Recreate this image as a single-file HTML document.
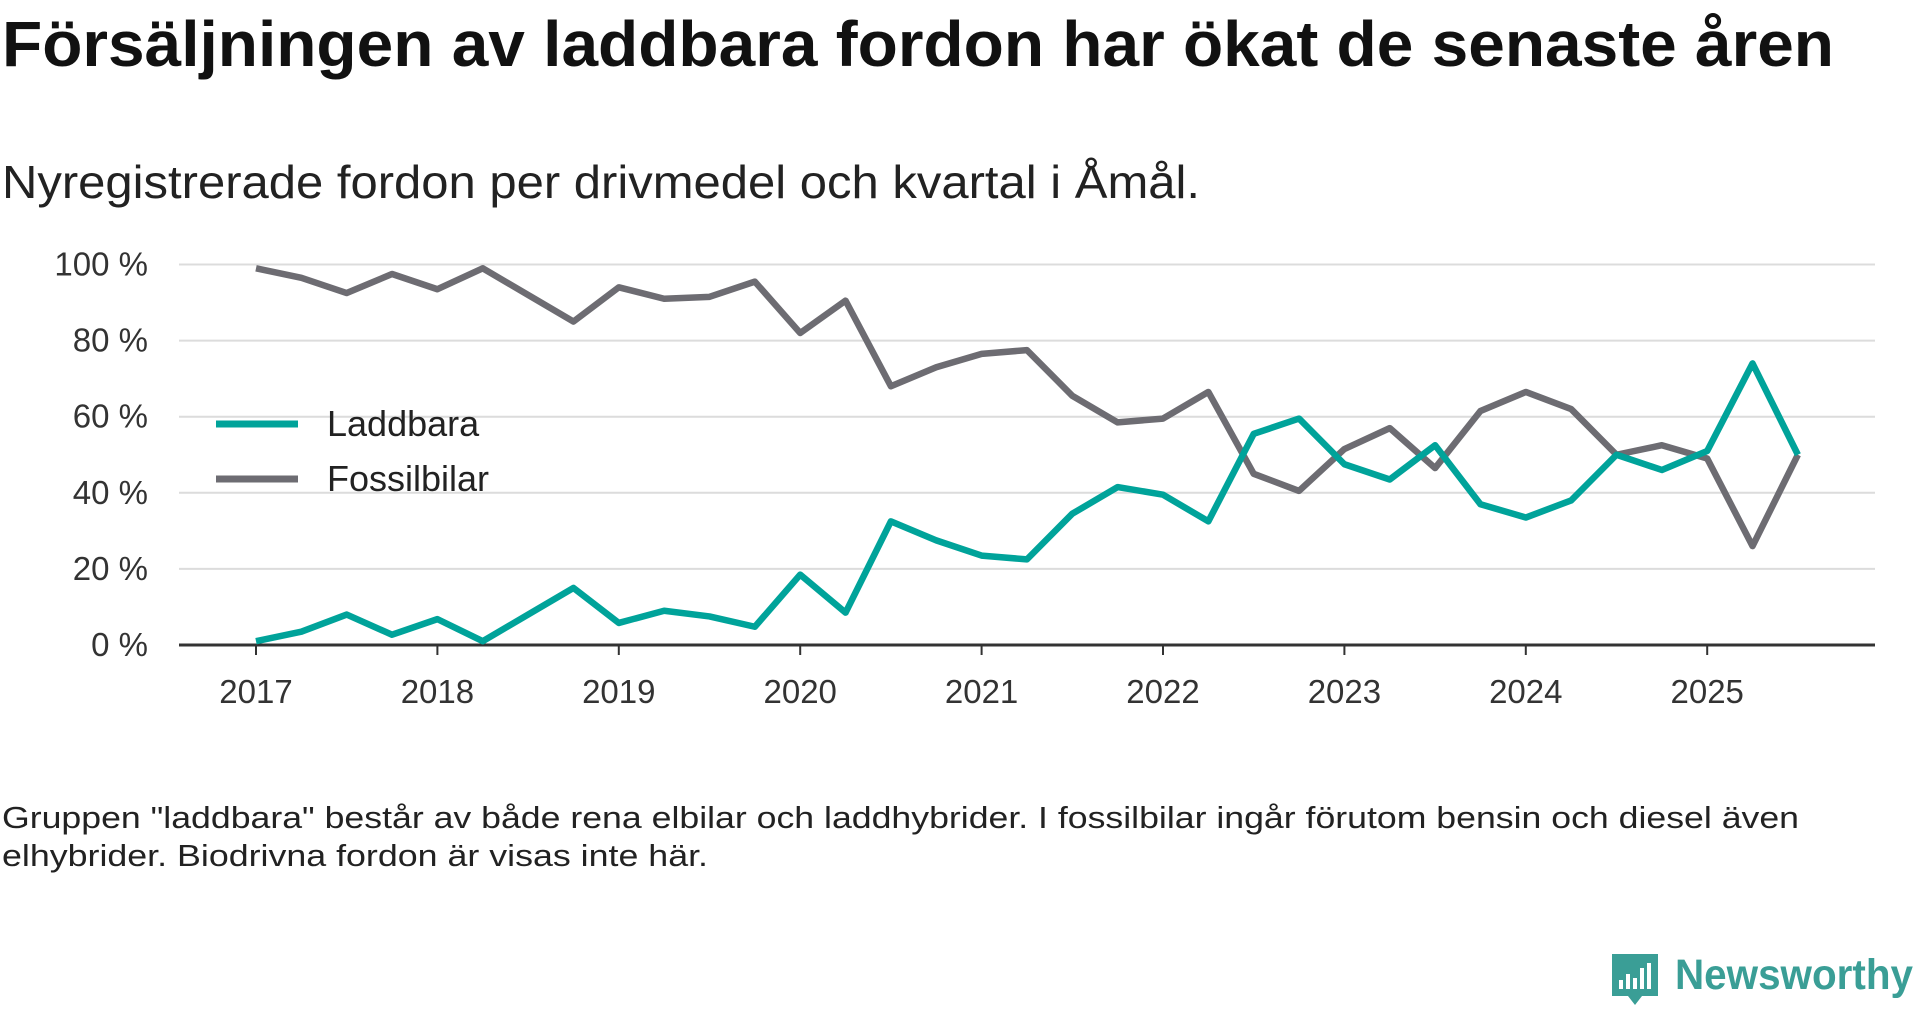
<!DOCTYPE html>
<html><head><meta charset="utf-8"><style>
body{margin:0;background:#fff;width:1920px;height:1010px;overflow:hidden;font-family:"Liberation Sans","DejaVu Sans",sans-serif;}
</style></head><body>
<svg width="1920" height="1010" xmlns="http://www.w3.org/2000/svg" font-family="Liberation Sans, DejaVu Sans, sans-serif">
<text x="2" y="66" font-size="64" font-weight="bold" fill="#111" textLength="1832" lengthAdjust="spacingAndGlyphs">Försäljningen av laddbara fordon har ökat de senaste åren</text>
<text x="2" y="198" font-size="46" fill="#222" textLength="1198" lengthAdjust="spacingAndGlyphs">Nyregistrerade fordon per drivmedel och kvartal i Åmål.</text>
<g id="grid"></g><g id="xaxis"></g><g id="lines"></g>
<g>
<line x1="216" y1="424" x2="298" y2="424" stroke="#00a39a" stroke-width="7"/>
<text x="327" y="436" font-size="36" fill="#222">Laddbara</text>
<line x1="216" y1="479" x2="298" y2="479" stroke="#6d6c72" stroke-width="7"/>
<text x="327" y="491" font-size="36" fill="#222">Fossilbilar</text>
</g>
<text x="2" y="828" font-size="31" fill="#222" textLength="1797" lengthAdjust="spacingAndGlyphs">Gruppen "laddbara" består av både rena elbilar och laddhybrider. I fossilbilar ingår förutom bensin och diesel även</text>
<text x="2" y="866" font-size="31" fill="#222" textLength="706" lengthAdjust="spacingAndGlyphs">elhybrider. Biodrivna fordon är visas inte här.</text>
<g>
<path d="M1612 954 h46 v42 h-16 l-7 9 l-7 -9 h-16 z" fill="#3a9e96"/>
<rect x="1619" y="980" width="4" height="9" fill="#fff"/><rect x="1626" y="974" width="4" height="15" fill="#fff"/><rect x="1633" y="978" width="4" height="11" fill="#fff"/><rect x="1640" y="968" width="4" height="21" fill="#fff"/><rect x="1647" y="963" width="4" height="26" fill="#fff"/>
<text x="1675" y="989" font-size="43" font-weight="bold" fill="#3a9e96" textLength="238" lengthAdjust="spacingAndGlyphs">Newsworthy</text>
</g>
</svg>
<script>
const quarters=[2017,2017.25,2017.5,2017.75,2018,2018.25,2018.5,2018.75,2019,2019.25,2019.5,2019.75,2020,2020.25,2020.5,2020.75,2021,2021.25,2021.5,2021.75,2022,2022.25,2022.5,2022.75,2023,2023.25,2023.5,2023.75,2024,2024.25,2024.5,2024.75,2025,2025.25,2025.5];
const laddbara=[1,3.5,8,2.7,6.8,1,8,15,5.8,9,7.5,4.8,18.5,8.5,32.5,27.5,23.5,22.5,34.5,41.5,39.5,32.5,55.5,59.5,47.5,43.5,52.5,37,33.5,38,50,46,51,74,50];
const fossil=[99,96.5,92.5,97.5,93.5,99,92,85,94,91,91.5,95.5,82,90.5,68,73,76.5,77.5,65.5,58.5,59.5,66.5,45,40.5,51.5,57,46.5,61.5,66.5,62,50,52.5,49,26,50];
const yTicks=[0,20,40,60,80,100];
const xTicks=[2017,2018,2019,2020,2021,2022,2023,2024,2025];
const X=v=>256+(v-2017)*181.4, Y=v=>645-v*3.805;
const NS="http://www.w3.org/2000/svg";
function mk(t,a,p){const e=document.createElementNS(NS,t);for(const k in a)e.setAttribute(k,a[k]);p.appendChild(e);return e;}
const g=document.getElementById('grid');
yTicks.forEach(v=>{
 if(v>0){const l=mk('line',{x1:179,x2:1875,y1:Y(v),y2:Y(v),stroke:'#dcdcdc','stroke-width':2},g);
 
 }
 const t=mk('text',{x:148,y:Y(v)+11,'font-size':33,fill:'#333','text-anchor':'end'},g);t.textContent=v+' %';
 
 
});
const xa=document.getElementById('xaxis');
const ax=mk('line',{x1:179,x2:1875,y1:645,y2:645,stroke:'#333','stroke-width':3},xa);


xTicks.forEach(v=>{
 const tk=mk('line',{x1:X(v),x2:X(v),y1:645,y2:655,stroke:'#333','stroke-width':2},xa);
 
 
 const t=mk('text',{x:X(v),y:703,'font-size':33,fill:'#333','text-anchor':'middle'},xa);t.textContent=v;
 
 
});
const lg=document.getElementById('lines');
[[fossil,'#6d6c72','line-fossilbilar'],[laddbara,'#00a39a','line-laddbara']].forEach(([d,c,n])=>{
 const p=mk('polyline',{points:d.map((v,i)=>X(quarters[i])+','+Y(v)).join(' '),fill:'none',stroke:c,'stroke-width':6.5,'stroke-linejoin':'round'},lg);
 
 
});
</script>
</body></html>
